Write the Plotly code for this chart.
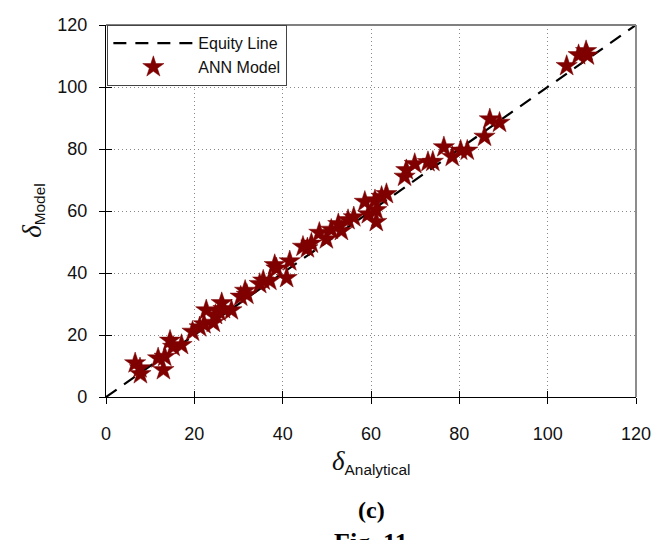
import plotly.graph_objects as go

# Data
analytical = [6.6, 7.7, 7.8, 11.8, 13.3, 13.0, 14.5, 15.2, 17.1, 19.6, 21.2, 22.2, 22.7, 24.3,
              24.8, 25.6, 26.2, 26.6, 28.4, 30.5, 31.5, 31.9, 34.8, 35.6, 37.1, 38.2, 38.6,
              40.9, 41.6, 44.6, 45.6, 46.5, 48.3, 49.9, 51.0, 52.6, 53.3, 54.8, 56.1, 58.6,
              59.4, 60.9, 61.2, 61.2, 62.4, 63.5, 67.6, 68.0, 69.9, 72.9, 74.0, 76.5, 78.4,
              80.3, 81.8, 85.7, 86.9, 89.1, 104.3, 107.0, 108.7, 109.0]
model = [10.9, 9.3, 7.4, 12.5, 13.0, 8.7, 18.2, 16.2, 16.8, 21.1, 22.5, 23.5, 28.0, 24.0,
         26.5, 27.5, 30.3, 28.4, 28.0, 32.4, 34.3, 33.0, 36.5, 37.6, 37.5, 42.6, 41.5,
         38.4, 43.8, 48.5, 48.0, 49.5, 53.0, 50.9, 54.0, 55.8, 53.6, 57.1, 58.0, 63.0,
         59.0, 63.5, 60.3, 56.5, 64.6, 65.5, 71.1, 73.2, 75.2, 75.8, 75.9, 80.6, 77.5,
         79.5, 79.5, 84.0, 89.6, 88.5, 106.8, 110.3, 111.6, 110.2]
equity_x = [0, 120]
equity_y = [0, 120]
tick_vals = [0, 20, 40, 60, 80, 100, 120]

fig = go.Figure()
fig.add_trace(go.Scatter(x=equity_x, y=equity_y, mode="lines", name="Equity Line",
                         line=dict(color="black", width=2.2, dash="13px,9px")))
fig.add_trace(go.Scatter(x=analytical, y=model, mode="markers", name="ANN Model",
                         marker=dict(symbol="star", size=16, color="#800000",
                                     line=dict(color="#7a0000", width=0.5))))
# invisible helper trace for inside-tick overlay axes
fig.add_trace(go.Scatter(x=[0], y=[0], xaxis="x2", yaxis="y2", mode="markers",
                         marker=dict(opacity=0), showlegend=False, hoverinfo="skip"))

axis_common = dict(range=[0, 120], tickvals=tick_vals, showline=True, linecolor="black",
                   linewidth=1.3, ticks="outside", ticklen=6, tickcolor="black",
                   tickwidth=1.2, showgrid=True, gridcolor="#8a8a8a", griddash="1px,3px",
                   gridwidth=1.2, zeroline=False, automargin=False,
                   tickfont=dict(family="Liberation Sans, Arial", size=18, color="#111"))

fig.update_layout(
    width=670, height=540,
    margin=dict(l=98, r=42, t=17, b=151),
    paper_bgcolor="white", plot_bgcolor="white",
    xaxis=dict(**axis_common, ticklabelstandoff=14),
    yaxis=dict(**axis_common, ticklabelstandoff=8),
    xaxis2=dict(range=[0, 120], tickvals=tick_vals, overlaying="x", ticks="inside",
                ticklen=6, tickcolor="black", tickwidth=1.2, showticklabels=False,
                showgrid=False, zeroline=False, showline=False, automargin=False),
    yaxis2=dict(range=[0, 120], tickvals=tick_vals, overlaying="y", ticks="inside",
                ticklen=6, tickcolor="black", tickwidth=1.2, showticklabels=False,
                showgrid=False, zeroline=False, showline=False, automargin=False),
    showlegend=True,
    legend=dict(x=0.002, y=1.0, xanchor="left", yanchor="top",
                bgcolor="white", bordercolor="#444", borderwidth=1.3,
                font=dict(family="Liberation Sans, Arial", size=16, color="#111"),
                itemwidth=80, tracegroupgap=0),
    shapes=[
        dict(type="line", xref="paper", yref="paper", x0=0, x1=1, y0=1, y1=1,
             line=dict(color="#808080", width=1.8)),
        dict(type="line", xref="paper", yref="paper", x0=1, x1=1, y0=0, y1=1,
             line=dict(color="#808080", width=1.8)),
    ],
    annotations=[
        dict(text="<span style='font-family:Liberation Serif;font-size:27px'><i>δ</i></span><sub>Analytical</sub>",
             xref="paper", yref="paper", x=0.5, y=-0.175, xanchor="center", yanchor="middle",
             showarrow=False,
             font=dict(family="Liberation Sans, Arial", size=22, color="#111")),
        dict(text="<span style='font-family:Liberation Serif;font-size:27px'><i>δ</i></span><sub>Model</sub>",
             xref="paper", yref="paper", x=-0.138, y=0.5, xanchor="center", yanchor="middle",
             showarrow=False, textangle=-90,
             font=dict(family="Liberation Sans, Arial", size=22, color="#111")),
        dict(text="<b>(c)</b>", xref="paper", yref="paper", x=0.5, y=-0.304,
             xanchor="center", yanchor="middle",
             showarrow=False, font=dict(family="Liberation Serif", size=24, color="black")),
        dict(text="<b>Fig. 11</b>", xref="paper", yref="paper", x=0.5, y=-0.347,
             xanchor="center", yanchor="top", showarrow=False,
             font=dict(family="Liberation Serif", size=26, color="black")),
    ],
)

fig.write_html("out.html")
